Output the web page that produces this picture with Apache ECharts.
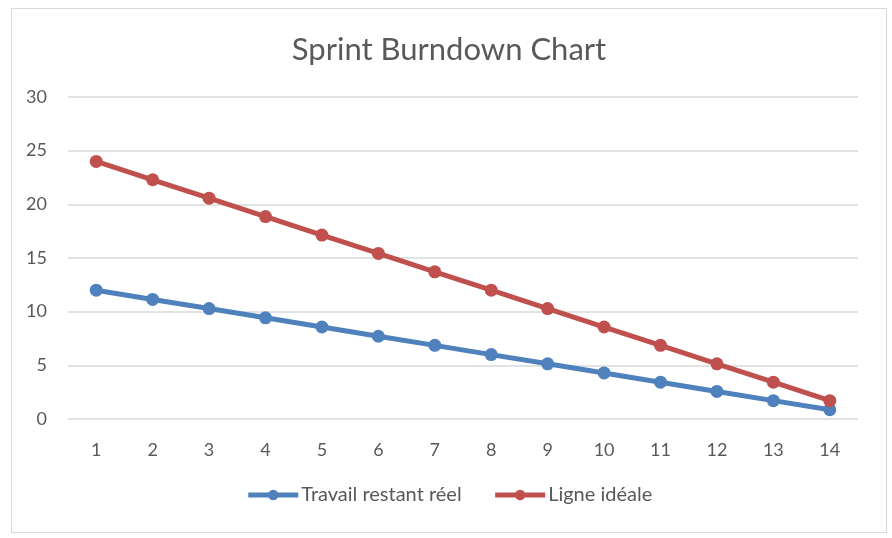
<!DOCTYPE html>
<html>
<head>
  <meta charset="UTF-8"/>
  <title>Sprint Burndown Chart</title>
  <script src="https://cdn.jsdelivr.net/npm/echarts@6/dist/echarts.min.js"></script>
  <style>
    html, body { margin: 0; padding: 0; background: #fff; }
    #main { position: absolute; left: 11px; top: 8px; width: 874px; height: 523px; border: 1px solid #d9d9d9; }
  </style>
</head>
<body>
<div id="main"></div>
<script type="text/javascript">
    // jours du sprint
    const days = ['1', '2', '3', '4', '5', '6', '7', '8', '9', '10', '11', '12', '13', '14']
    // travail restant réel
    const actual = [12, 11.14, 10.29, 9.43, 8.57, 7.71, 6.86, 6.0, 5.14, 4.29, 3.43, 2.57, 1.71, 0.86]
    // ligne idéale
    const ideal = [24, 22.29, 20.57, 18.86, 17.14, 15.43, 13.71, 12.0, 10.29, 8.57, 6.86, 5.14, 3.43, 1.71]

    const font = 'Lato, "Open Sans", sans-serif'
    let myChart = echarts.init(document.getElementById('main'))
    let option = {
        animation: false,
        textStyle: { fontFamily: font },
        title: {
            text: 'Sprint Burndown Chart',
            left: 'center',
            top: 20,
            textStyle: { fontFamily: font, fontSize: 31, fontWeight: 'normal', color: '#595959' }
        },
        legend: {
            bottom: 22,
            left: 'center',
            itemWidth: 50,
            itemHeight: 13,
            itemGap: 31,
            lineStyle: { width: 5 },
            textStyle: { fontFamily: font, fontSize: 20, color: '#595959', padding: [0, 0, 0, -2] },
            data: ['Travail restant réel', 'Ligne idéale']
        },
        grid: { left: 56, right: 28, top: 88, bottom: 113 },
        xAxis: {
            type: 'category',
            data: days,
            boundaryGap: true,
            axisLine: { show: false },
            axisTick: { show: false },
            axisLabel: { fontFamily: font, fontSize: 18, color: '#595959', margin: 22 }
        },
        yAxis: {
            type: 'value',
            min: 0,
            max: 30,
            interval: 5,
            axisLine: { show: false },
            axisTick: { show: false },
            splitLine: { lineStyle: { color: '#d9d9d9', width: 1.5 } },
            axisLabel: { fontFamily: font, fontSize: 18, color: '#595959', margin: 21 }
        },
        series: [
            {
                name: 'Travail restant réel',
                type: 'line',
                data: actual,
                symbol: 'circle',
                symbolSize: 13,
                color: '#4f81bd',
                lineStyle: { width: 5, color: '#4f81bd' },
                itemStyle: { color: '#4f81bd' }
            },
            {
                name: 'Ligne idéale',
                type: 'line',
                data: ideal,
                symbol: 'circle',
                symbolSize: 13,
                color: '#c0504d',
                lineStyle: { width: 5, color: '#c0504d' },
                itemStyle: { color: '#c0504d' }
            }
        ]
    };
    myChart.setOption(option);
</script>
</body>
</html>
